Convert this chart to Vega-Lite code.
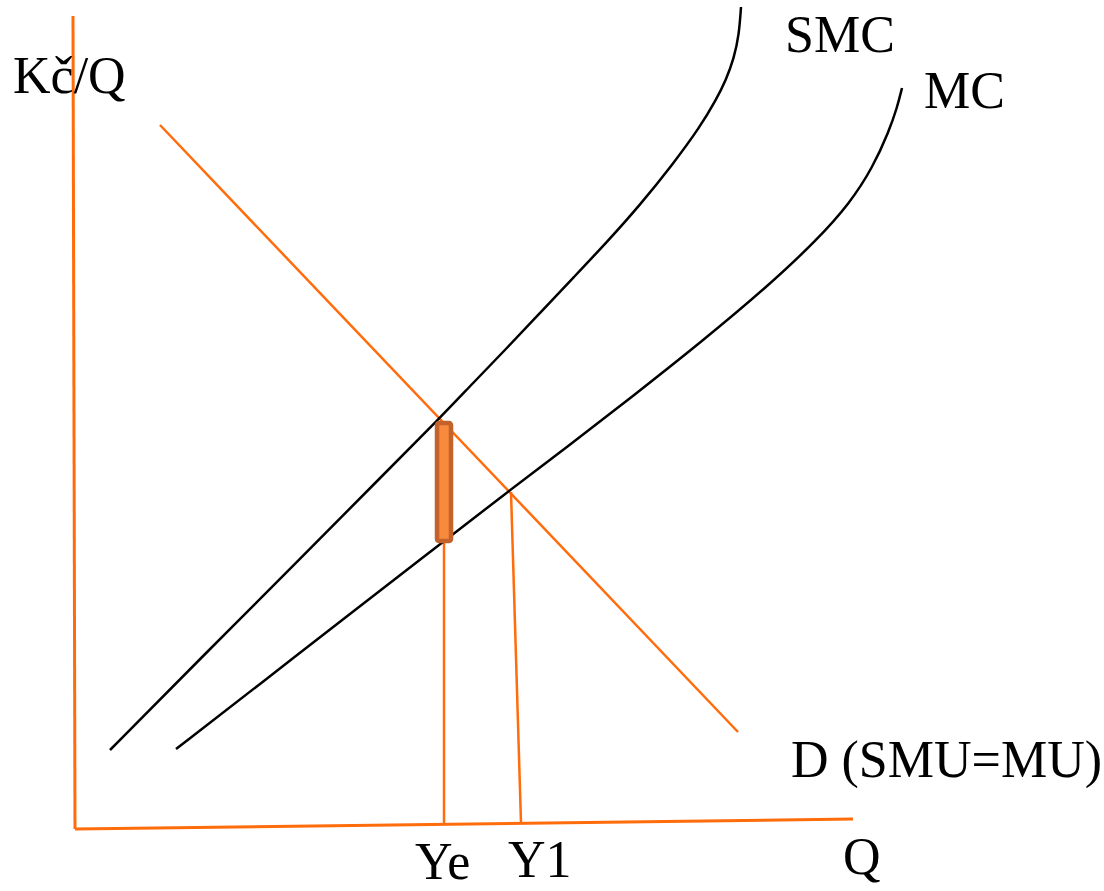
{
  "$schema": "https://vega.github.io/schema/vega-lite/v6.json",
  "autosize": {"type": "none"},
  "width": 1104,
  "height": 891,
  "padding": 0,
  "background": "white",
  "config": {"view": {"stroke": null}},
  "datasets": {
    "curves": [
      {"curve": "SMC", "q": 110, "p": 750},
      {"curve": "SMC", "q": 200, "p": 659},
      {"curve": "SMC", "q": 300, "p": 559},
      {"curve": "SMC", "q": 380, "p": 478},
      {"curve": "SMC", "q": 440, "p": 418},
      {"curve": "SMC", "q": 473, "p": 383},
      {"curve": "SMC", "q": 507, "p": 348},
      {"curve": "SMC", "q": 540, "p": 313},
      {"curve": "SMC", "q": 573, "p": 278},
      {"curve": "SMC", "q": 607, "p": 242},
      {"curve": "SMC", "q": 640, "p": 205},
      {"curve": "SMC", "q": 673, "p": 164},
      {"curve": "SMC", "q": 700, "p": 127},
      {"curve": "SMC", "q": 716, "p": 100},
      {"curve": "SMC", "q": 726, "p": 80},
      {"curve": "SMC", "q": 734, "p": 58},
      {"curve": "SMC", "q": 739, "p": 35},
      {"curve": "SMC", "q": 741, "p": 7},
      {"curve": "MC", "q": 176, "p": 749},
      {"curve": "MC", "q": 260, "p": 684},
      {"curve": "MC", "q": 350, "p": 614},
      {"curve": "MC", "q": 430, "p": 552},
      {"curve": "MC", "q": 510, "p": 490},
      {"curve": "MC", "q": 567, "p": 447},
      {"curve": "MC", "q": 633, "p": 396},
      {"curve": "MC", "q": 700, "p": 343},
      {"curve": "MC", "q": 767, "p": 287},
      {"curve": "MC", "q": 817, "p": 240},
      {"curve": "MC", "q": 850, "p": 203},
      {"curve": "MC", "q": 873, "p": 167},
      {"curve": "MC", "q": 889, "p": 131},
      {"curve": "MC", "q": 897, "p": 108},
      {"curve": "MC", "q": 902, "p": 88}
    ],
    "orange": [
      {"line": "Dem", "q": 160, "p": 125, "o": 1},
      {"line": "Dem", "q": 738, "p": 732, "o": 2},
      {"line": "Ye", "q": 444, "p": 543, "o": 1},
      {"line": "Ye", "q": 444, "p": 823, "o": 2},
      {"line": "Y1", "q": 511, "p": 492, "o": 1},
      {"line": "Y1", "q": 521, "p": 823, "o": 2}
    ],
    "axes": [
      {"line": "vert", "q": 73, "p": 16, "o": 1},
      {"line": "vert", "q": 75, "p": 829, "o": 2},
      {"line": "horiz", "q": 75, "p": 829, "o": 1},
      {"line": "horiz", "q": 853, "p": 819, "o": 2}
    ],
    "bar": [
      {"q1": 437, "q2": 451, "p1": 423, "p2": 541}
    ],
    "labels": [
      {"text": "Kč/Q", "q": 13, "p": 93},
      {"text": "SMC", "q": 785, "p": 52},
      {"text": "MC", "q": 924, "p": 108},
      {"text": "D (SMU=MU)", "q": 791, "p": 777},
      {"text": "Ye", "q": 415, "p": 879},
      {"text": "Y1", "q": 508, "p": 877},
      {"text": "Q", "q": 843, "p": 874}
    ]
  },
  "layer": [
    {
      "data": {"name": "axes"},
      "mark": {"type": "line", "color": "#FF6C0C", "strokeWidth": 3},
      "encoding": {
        "x": {"field": "q", "type": "quantitative", "scale": {"domain": [0, 1104], "nice": false, "zero": false}, "axis": null},
        "y": {"field": "p", "type": "quantitative", "scale": {"domain": [0, 891], "reverse": true, "nice": false, "zero": false}, "axis": null},
        "detail": {"field": "line"},
        "order": {"field": "o"}
      }
    },
    {
      "data": {"name": "orange"},
      "mark": {"type": "line", "color": "#FF6C0C", "strokeWidth": 2.5},
      "encoding": {
        "x": {"field": "q", "type": "quantitative"},
        "y": {"field": "p", "type": "quantitative"},
        "detail": {"field": "line"},
        "order": {"field": "o"}
      }
    },
    {
      "data": {"name": "curves"},
      "mark": {"type": "line", "color": "#000000", "strokeWidth": 2.5, "interpolate": "basis"},
      "encoding": {
        "x": {"field": "q", "type": "quantitative"},
        "y": {"field": "p", "type": "quantitative"},
        "detail": {"field": "curve"}
      }
    },
    {
      "data": {"name": "bar"},
      "mark": {"type": "rect", "fill": "#F78A3C", "stroke": "#C3622B", "strokeWidth": 4.5, "cornerRadius": 2},
      "encoding": {
        "x": {"field": "q1", "type": "quantitative"},
        "x2": {"field": "q2"},
        "y": {"field": "p1", "type": "quantitative"},
        "y2": {"field": "p2"}
      }
    },
    {
      "data": {"name": "labels"},
      "mark": {"type": "text", "font": "Liberation Serif", "fontSize": 52, "align": "left", "baseline": "alphabetic", "color": "#000000"},
      "encoding": {
        "x": {"field": "q", "type": "quantitative"},
        "y": {"field": "p", "type": "quantitative"},
        "text": {"field": "text"}
      }
    }
  ]
}
